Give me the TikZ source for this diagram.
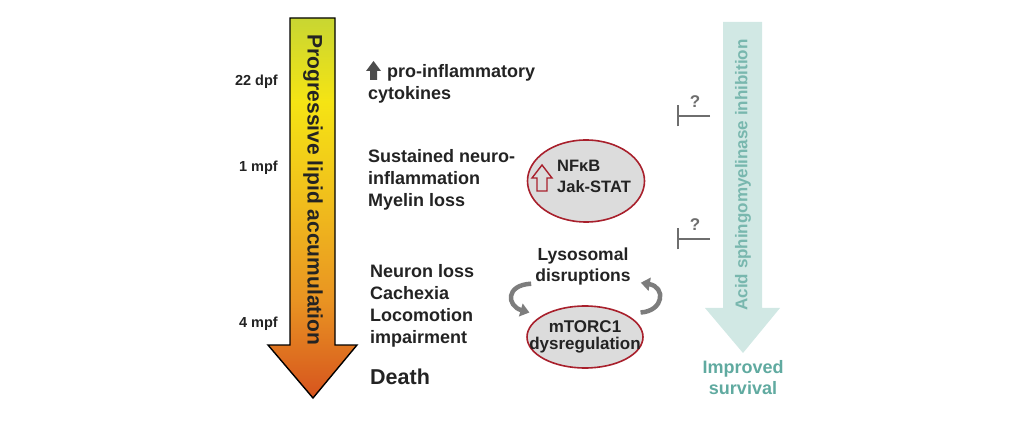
\documentclass[tikz,border=0pt]{standalone}
\usepackage{fontspec}
\setmainfont{Liberation Sans}
\usepackage{tikz}
\usetikzlibrary{shapes.geometric, arrows.meta}
\definecolor{lipidlime}{RGB}{200, 214, 50}
\definecolor{lipidyellow}{RGB}{245, 228, 20}
\definecolor{lipidamber}{RGB}{240, 190, 28}
\definecolor{lipidorange}{RGB}{233, 148, 34}
\definecolor{lipidred}{RGB}{214, 84, 30}
\definecolor{mintink}{RGB}{209, 232, 228}
\definecolor{tealink}{RGB}{96, 170, 160}
\definecolor{rimred}{RGB}{168, 32, 44}
\definecolor{cellgray}{RGB}{220, 220, 220}
\definecolor{loopgray}{RGB}{125, 125, 125}
\definecolor{blockgray}{RGB}{110, 110, 110}
\definecolor{textink}{RGB}{35, 35, 35}
\pgfdeclareverticalshading{lipidshade}{100bp}{color(0bp)=(lipidred); color(25bp)=(lipidred); color(38bp)=(lipidorange); color(51bp)=(lipidamber); color(64bp)=(lipidyellow); color(75bp)=(lipidlime); color(100bp)=(lipidlime)}

\begin{document}
\begin{tikzpicture}[x=1pt, y=-1pt, inner sep=0pt, text=textink,
  tag/.style={font=\bfseries\fontsize{14.5}{17}\selectfont, anchor=base east},
  stage/.style={font=\bfseries\fontsize{18}{22}\selectfont, align=left, anchor=north west},
  cell/.style={ellipse, draw=rimred, line width=1.6pt, fill=cellgray},
  inner/.style={font=\bfseries\fontsize{16.5}{21}\selectfont, align=left},
  loop/.style={loopgray, line width=4.5pt, -{Triangle[length=9pt, width=13pt]}},
  blocker/.style={blockgray, line width=1.8pt, -{Bar[width=21pt]}},
  ask/.style={font=\bfseries\fontsize{17}{20}\selectfont, text=blockgray, anchor=base}]
  \useasboundingbox (0,0) rectangle (1020,446);
  % lipid arrow
  \shade[shading=lipidshade, draw=black, line width=1.4pt]
    (290,18) -- (335,18) -- (335,345) -- (357,345) -- (313,398) -- (268,345) -- (290,345) -- cycle;
  \node[rotate=-90, font=\bfseries\fontsize{21}{24}\selectfont] (lipid) at (313,190) {Progressive lipid accumulation};
  \node[tag] (t22) at (278,86) {22 dpf};
  \node[tag] (t1) at (278,172) {1 mpf};
  \node[tag] (t4) at (278,327) {4 mpf};
  % stages
  \fill[black!70] (366,71) -- (373.5,61) -- (381,71) -- (377,71) -- (377,80) -- (370,80) -- (370,71) -- cycle;
  \node[stage, anchor=base west] (proinf) at (387,78) {pro-inflammatory};
  \node[stage, anchor=base west] (cyto) at (368,100) {cytokines};
  \node[stage] (neuroinf) at (368,149) {Sustained neuro-\\inflammation\\Myelin loss};
  \node[stage] (loss) at (370,264) {Neuron loss\\Cachexia\\Locomotion\\impairment};
  \node[stage, anchor=base west, font=\bfseries\fontsize{21.5}{24}\selectfont] (death) at (370,384) {Death};
  % signalling
  \node[cell, minimum width=117pt, minimum height=82pt] (nfkb) at (586,181) {};
  \draw[rimred, line width=1.4pt] (532,178) -- (542,165) -- (552,178) -- (547,178) -- (547,191) -- (537,191) -- (537,178) -- cycle;
  \node[inner, anchor=north west] (nfkbtxt) at (557,160) {NFκB\\Jak-STAT};
  \node[font=\bfseries\fontsize{17.5}{21}\selectfont, align=center, anchor=north] (lyso) at (583,248) {Lysosomal\\disruptions};
  \node[cell, minimum width=116pt, minimum height=62pt] (mtor) at (585,337) {};
  \node[font=\bfseries\fontsize{17}{16.5}\selectfont, align=center] (mtortxt) at (mtor.center) {mTORC1\\dysregulation};
  \draw[loop] ([shift={(-4,-2)}]lyso.south west) .. controls (505,285) and (507,306) .. ([shift={(-14,-2)}]mtor.north west);
  \draw[loop] ([shift={(14,-2)}]mtor.north east) .. controls (664,311) and (666,287) .. ([shift={(10,-3)}]lyso.south east);
  % inhibition
  \fill[mintink] (723,22) -- (762,22) -- (762,308) -- (780,308) -- (743,353) -- (705,308) -- (723,308) -- cycle;
  \node[rotate=90, text=tealink!85, font=\bfseries\fontsize{17}{20}\selectfont] (asm) at (743,175) {Acid sphingomyelinase inhibition};
  \node[text=tealink, font=\bfseries\fontsize{18}{21.5}\selectfont, align=center, anchor=north] (surv) at (743,360) {Improved\\survival};
  \coordinate (fromA) at (710,116); \coordinate (hitA) at (677,116);
  \coordinate (fromB) at (710,239); \coordinate (hitB) at (677,239);
  \draw[blocker] (fromA) -- (hitA);
  \draw[blocker] (fromB) -- (hitB);
  \node[ask] (qA) at (695,108) {?};
  \node[ask] (qB) at (695,231) {?};
\end{tikzpicture}
\end{document}
